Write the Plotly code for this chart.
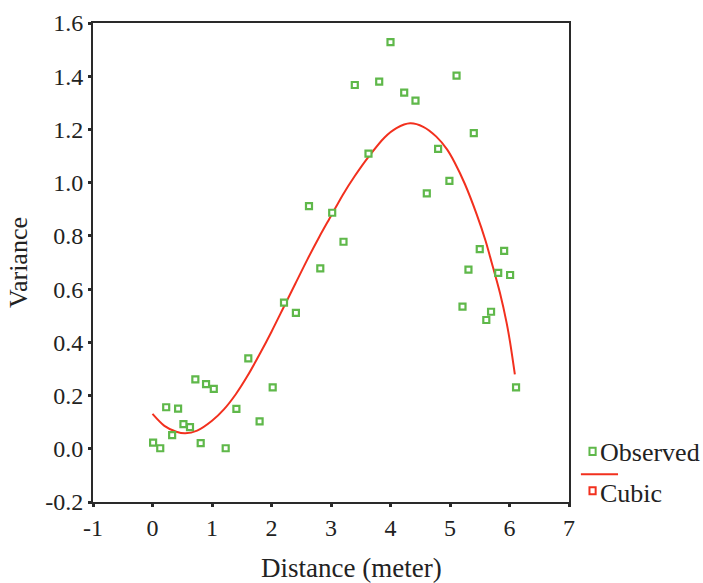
import plotly.graph_objects as go

obs_x = [0.01, 0.13, 0.23, 0.33, 0.43, 0.52, 0.63, 0.72, 0.81, 0.9, 1.03, 1.23, 1.41,
         1.61, 1.8, 2.02, 2.21, 2.41, 2.63, 2.82, 3.02, 3.21, 3.4, 3.63, 3.81, 4.0,
         4.23, 4.42, 4.61, 4.8, 4.99, 5.11, 5.21, 5.31, 5.4, 5.5, 5.61, 5.69, 5.81,
         5.91, 6.01, 6.11]
obs_y = [0.023, 0.002, 0.156, 0.051, 0.151, 0.093, 0.081, 0.261, 0.021, 0.243, 0.225,
         0.002, 0.150, 0.340, 0.103, 0.231, 0.549, 0.511, 0.912, 0.678, 0.887, 0.778,
         1.367, 1.109, 1.380, 1.528, 1.338, 1.308, 0.960, 1.127, 1.007, 1.402, 0.534,
         0.673, 1.186, 0.750, 0.484, 0.515, 0.661, 0.744, 0.653, 0.231]

# Cubic fit curve
cubic_x = [0.0, 0.2, 0.4, 0.55, 0.75, 1.0, 1.2, 1.4, 1.6, 1.8, 2.0, 2.2, 2.4, 2.6, 2.8,
           3.0, 3.2, 3.4, 3.63, 3.9, 4.1, 4.33, 4.55, 4.77, 4.95, 5.08, 5.25, 5.45,
           5.6, 5.7, 5.84, 5.95, 6.01, 6.09]
cubic_y = [0.131, 0.086, 0.064, 0.058, 0.068, 0.105, 0.148, 0.205, 0.275, 0.355, 0.440,
           0.530, 0.620, 0.710, 0.795, 0.875, 0.955, 1.025, 1.097, 1.170, 1.205, 1.223,
           1.210, 1.173, 1.125, 1.075, 0.995, 0.880, 0.780, 0.700, 0.585, 0.475, 0.400,
           0.280]

x_tickvals = [-1, 0, 1, 2, 3, 4, 5, 6, 7]
x_ticktext = ["-1", "0", "1", "2", "3", "4", "5", "6", "7"]
y_tickvals = [-0.2, 0.0, 0.2, 0.4, 0.6, 0.8, 1.0, 1.2, 1.4, 1.6]
y_ticktext = ["-0.2", "0.0", "0.2", "0.4", "0.6", "0.8", "1.0", "1.2", "1.4", "1.6"]

GREEN = "#5fb84a"
RED = "#f2301e"
FONT = "Liberation Serif"

fig = go.Figure()
fig.add_trace(go.Scatter(
    x=cubic_x, y=cubic_y, mode="lines", name="Cubic",
    line=dict(color=RED, width=2, shape="spline", smoothing=0.8),
    showlegend=False))
fig.add_trace(go.Scatter(
    x=obs_x, y=obs_y, mode="markers", name="Observed",
    marker=dict(symbol="square", size=6, color="white",
                line=dict(color=GREEN, width=2.2)),
    showlegend=False))

axis_common = dict(showline=True, mirror=True, linecolor="#2a2a2a", linewidth=2,
                   showgrid=False, zeroline=False, ticks="outside", ticklen=3,
                   tickwidth=3, tickcolor="#2a2a2a", automargin=False,
                   tickfont=dict(family=FONT, size=24, color="#222"))

fig.update_xaxes(range=[-1, 7], tickvals=x_tickvals, ticktext=x_ticktext,
                 **axis_common)
fig.update_yaxes(range=[-0.2, 1.6], tickvals=y_tickvals, ticktext=y_ticktext,
                 title=dict(text="Variance", font=dict(family=FONT, size=26, color="#222"),
                            standoff=10),
                 **axis_common)

# X-axis title (slightly right of centre, as in the reference)
fig.add_annotation(text="Distance (meter)", xref="paper", yref="paper", x=0.543, y=-0.137,
                   xanchor="center", yanchor="middle", showarrow=False,
                   font=dict(family=FONT, size=27, color="#222"))

# Manual legend (SPSS style)
fig.add_shape(type="rect", xref="paper", yref="paper",
              x0=1.043, x1=1.056, y0=0.098, y1=0.113,
              line=dict(color=GREEN, width=2), fillcolor="white")
fig.add_annotation(text="Observed", xref="paper", yref="paper", x=1.06, y=0.103,
                   xanchor="left", yanchor="middle", showarrow=False,
                   font=dict(family=FONT, size=26, color="#222"))
fig.add_shape(type="line", xref="paper", yref="paper",
              x0=1.025, x1=1.103, y0=0.058, y1=0.058,
              line=dict(color=RED, width=2))
fig.add_shape(type="rect", xref="paper", yref="paper",
              x0=1.043, x1=1.056, y0=0.016, y1=0.031,
              line=dict(color=RED, width=2), fillcolor="white")
fig.add_annotation(text="Cubic", xref="paper", yref="paper", x=1.06, y=0.018,
                   xanchor="left", yanchor="middle", showarrow=False,
                   font=dict(family=FONT, size=26, color="#222"))

fig.update_layout(width=703, height=583,
                  margin=dict(l=93, r=134, t=23, b=81),
                  paper_bgcolor="white", plot_bgcolor="white")

fig.write_html("out.html")
